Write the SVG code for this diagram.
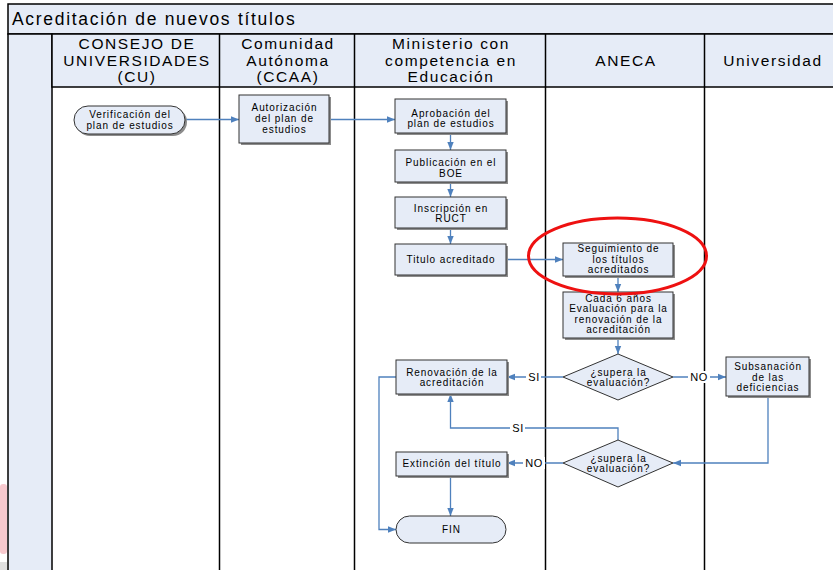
<svg xmlns="http://www.w3.org/2000/svg" width="833" height="570" viewBox="0 0 833 570">
<defs>
<marker id="ah" viewBox="0 0 10 10" refX="10" refY="5" markerWidth="8" markerHeight="8" markerUnits="userSpaceOnUse" orient="auto">
<path d="M0,1 L10,5 L0,9 Z" fill="#4f81bd"/>
</marker>
<style>
.lane{stroke:#000;stroke-width:1.5;fill:none}
.hdr{font-family:"Liberation Sans",Arial,sans-serif;font-size:15.5px;letter-spacing:1.6px;fill:#000;text-anchor:middle}
.box{fill:#e6ecf7;stroke:#333;stroke-width:1}
.sh{fill:#8c8c8c}
.t{font-family:"Liberation Sans",Arial,sans-serif;font-size:10px;letter-spacing:0.9px;fill:#000;text-anchor:middle}
.c{fill:none;stroke:#4f81bd;stroke-width:1.3}
.lbl{font-family:"Liberation Sans",Arial,sans-serif;font-size:11px;letter-spacing:0.6px;fill:#000;text-anchor:middle}
</style>
</defs>
<rect x="0" y="0" width="833" height="570" fill="#fff"/>
<rect x="0" y="484" width="7" height="70" rx="3" fill="#f7c9ce"/>
<rect x="0" y="562" width="7" height="8" fill="#e0e0e0"/>
<g id="frame">
<rect x="8" y="4" width="830" height="30" fill="#e6ecf7" stroke="#000" stroke-width="1.5"/>
<text x="12" y="25" font-family="Liberation Sans, Arial, sans-serif" font-size="17.5" letter-spacing="1.7" fill="#000">Acreditación de nuevos títulos</text>
<rect x="8" y="34" width="44" height="540" fill="#e6ecf7" stroke="#000" stroke-width="1.5"/>
<rect x="52" y="34" width="790" height="53" fill="#e6ecf7" stroke="#000" stroke-width="1.5"/>
<line class="lane" x1="219.5" y1="34" x2="219.5" y2="570"/>
<line class="lane" x1="354.5" y1="34" x2="354.5" y2="570"/>
<line class="lane" x1="545.5" y1="34" x2="545.5" y2="570"/>
<line class="lane" x1="704.5" y1="34" x2="704.5" y2="570"/>
<text class="hdr" x="137" y="49">CONSEJO DE</text>
<text class="hdr" x="137" y="65.5">UNIVERSIDADES</text>
<text class="hdr" x="137" y="82">(CU)</text>
<text class="hdr" x="288" y="49">Comunidad</text>
<text class="hdr" x="288" y="65.5">Autónoma</text>
<text class="hdr" x="288" y="82">(CCAA)</text>
<text class="hdr" x="451" y="49">Ministerio con</text>
<text class="hdr" x="451" y="65.5">competencia en</text>
<text class="hdr" x="451" y="82">Educación</text>
<text class="hdr" x="626" y="65.5">ANECA</text>
<text class="hdr" x="773" y="65.5">Universidad</text>
</g>
<g id="connectors">
<path class="c" d="M185,119.5 H239" marker-end="url(#ah)"/>
<path class="c" d="M329,119.5 H395" marker-end="url(#ah)"/>
<path class="c" d="M450.5,133 V150" marker-end="url(#ah)"/>
<path class="c" d="M450.5,182 V197" marker-end="url(#ah)"/>
<path class="c" d="M450.5,228 V244" marker-end="url(#ah)"/>
<path class="c" d="M506,259.5 H563" marker-end="url(#ah)"/>
<path class="c" d="M618,276 V292" marker-end="url(#ah)"/>
<path class="c" d="M618,338 V354" marker-end="url(#ah)"/>
<path class="c" d="M563,377 H507" marker-end="url(#ah)"/>
<path class="c" d="M673,377 H726" marker-end="url(#ah)"/>
<path class="c" d="M768,396 V463 H673" marker-end="url(#ah)"/>
<path class="c" d="M618,440 V428 H450.5 V394" marker-end="url(#ah)"/>
<path class="c" d="M563,463 H507" marker-end="url(#ah)"/>
<path class="c" d="M450.5,476 V516" marker-end="url(#ah)"/>
<path class="c" d="M396,377 H379 V529.5 H396" marker-end="url(#ah)"/>
<rect x="526" y="371" width="15" height="12" fill="#fff"/>
<text class="lbl" x="534" y="381">SI</text>
<rect x="688" y="371" width="22" height="12" fill="#fff"/>
<text class="lbl" x="699" y="381">NO</text>
<rect x="510" y="422" width="15" height="12" fill="#fff"/>
<text class="lbl" x="518" y="432">SI</text>
<rect x="523" y="457" width="22" height="12" fill="#fff"/>
<text class="lbl" x="534" y="467">NO</text>
</g>
<g id="n_verificacion">
<rect class="sh" x="76" y="108" width="111" height="28" rx="14"/>
<rect class="box" x="74" y="106" width="111" height="28" rx="14"/>
<text class="t" x="130" y="118">Verificación del</text>
<text class="t" x="130" y="128.5">plan de estudios</text>
</g>
<g id="n_autorizacion">
<rect class="sh" x="241" y="97" width="90" height="48"/>
<rect class="box" x="239" y="95" width="90" height="48"/>
<text class="t" x="284.5" y="111">Autorización</text>
<text class="t" x="284.5" y="122">del plan de</text>
<text class="t" x="284.5" y="133">estudios</text>
</g>
<g id="n_aprobacion">
<rect class="sh" x="397" y="101" width="111" height="34"/>
<rect class="box" x="395" y="99" width="111" height="34"/>
<text class="t" x="451" y="116.5">Aprobación del</text>
<text class="t" x="451" y="127">plan de estudios</text>
</g>
<g id="n_publicacion">
<rect class="sh" x="397" y="152" width="111" height="32"/>
<rect class="box" x="395" y="150" width="111" height="32"/>
<text class="t" x="451" y="165.5">Publicación en el</text>
<text class="t" x="451" y="176.5">BOE</text>
</g>
<g id="n_inscripcion">
<rect class="sh" x="397" y="199" width="111" height="31"/>
<rect class="box" x="395" y="197" width="111" height="31"/>
<text class="t" x="451" y="211.5">Inscripción en</text>
<text class="t" x="451" y="222">RUCT</text>
</g>
<g id="n_titulo">
<rect class="sh" x="397" y="246" width="111" height="31"/>
<rect class="box" x="395" y="244" width="111" height="31"/>
<text class="t" x="451" y="263">Titulo acreditado</text>
</g>
<g id="n_seguimiento">
<rect class="sh" x="565" y="245" width="110" height="33"/>
<rect class="box" x="563" y="243" width="110" height="33"/>
<text class="t" x="618.5" y="252">Seguimiento de</text>
<text class="t" x="618.5" y="262.5">los títulos</text>
<text class="t" x="618.5" y="273">acreditados</text>
</g>
<g id="n_evaluacion">
<rect class="sh" x="565" y="294" width="110" height="46"/>
<rect class="box" x="563" y="292" width="110" height="46"/>
<text class="t" x="618.5" y="301.5">Cada 6 años</text>
<text class="t" x="618.5" y="312">Evaluación para la</text>
<text class="t" x="618.5" y="322.5">renovación de la</text>
<text class="t" x="618.5" y="333">acreditación</text>
</g>
<g id="n_decision1">
<polygon class="box" points="618,354 673,377 618,400 563,377"/>
<text class="t" x="618.5" y="375.5">¿supera la</text>
<text class="t" x="618.5" y="386">evaluación?</text>
</g>
<g id="n_subsanacion">
<rect class="sh" x="728" y="359" width="83" height="39"/>
<rect class="box" x="726" y="357" width="83" height="39"/>
<text class="t" x="768" y="370">Subsanación</text>
<text class="t" x="768" y="380.5">de las</text>
<text class="t" x="768" y="391">deficiencias</text>
</g>
<g id="n_renovacion">
<rect class="sh" x="398" y="362" width="111" height="34"/>
<rect class="box" x="396" y="360" width="111" height="34"/>
<text class="t" x="452" y="375.5">Renovación de la</text>
<text class="t" x="452" y="386">acreditación</text>
</g>
<g id="n_decision2">
<polygon class="box" points="618,440 673,463 618,487 563,463"/>
<text class="t" x="618.5" y="461.5">¿supera la</text>
<text class="t" x="618.5" y="472">evaluación?</text>
</g>
<g id="n_extincion">
<rect class="sh" x="398" y="454" width="111" height="24"/>
<rect class="box" x="396" y="452" width="111" height="24"/>
<text class="t" x="452" y="467">Extinción del título</text>
</g>
<g id="n_fin">
<rect class="box" x="396" y="516" width="110" height="27" rx="13.5"/>
<text class="t" x="451.5" y="533">FIN</text>
</g>
<g id="highlight">
<ellipse cx="617.5" cy="256" rx="89" ry="38" fill="none" stroke="#ee1111" stroke-width="3"/>
</g>
</svg>
